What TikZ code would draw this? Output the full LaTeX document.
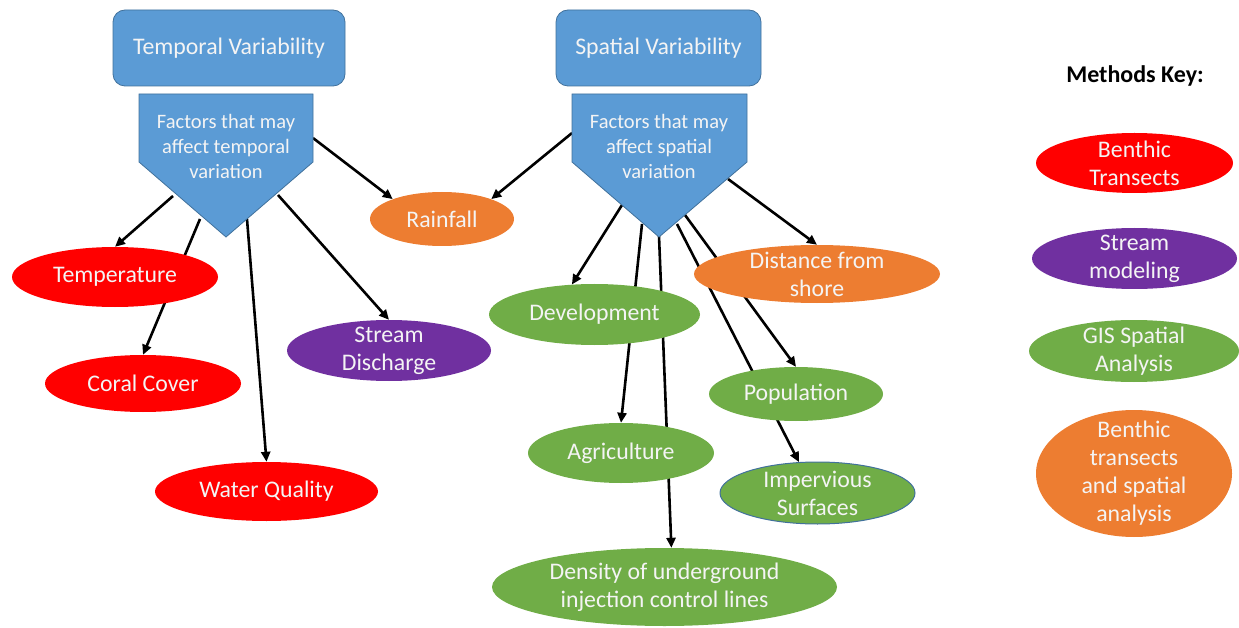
\documentclass[tikz,border=0pt]{standalone}
\usepackage{fontspec}
\setmainfont{Carlito}
\usetikzlibrary{shapes.geometric,arrows.meta,backgrounds}
\definecolor{oblue}{HTML}{5B9BD5}
\definecolor{obluedk}{HTML}{41719C}
\definecolor{ored}{HTML}{FF0000}
\definecolor{opurple}{HTML}{7030A0}
\definecolor{ogreen}{HTML}{70AD47}
\definecolor{oorange}{HTML}{ED7D31}
\definecolor{otext}{HTML}{F4F4F4}
\begin{document}
\begin{tikzpicture}[x=1pt,y=-1pt,
  lbl/.style={font=\fontsize{23.8}{28}\selectfont, text=otext, align=center, inner sep=0pt},
  oval/.style={ellipse, inner sep=0pt},
  rbox/.style={rectangle, rounded corners=12pt, fill=oblue, draw=obluedk, line width=0.8pt,
    font=\fontsize{23.8}{28}\selectfont, text=otext},
  penta/.style={fill=oblue, draw=obluedk, line width=0.8pt},
  ptext/.style={font=\fontsize{20.5}{25}\selectfont, text=otext, align=center, inner sep=0pt},
  conn/.style={line width=2.6pt, -{Triangle[length=10pt,width=9pt]}},
]
\useasboundingbox (0,0) rectangle (1239,628);

% header boxes
\node[rbox, minimum width=232pt, minimum height=76pt] (tv) at (229,48) {Temporal Variability};
\node[rbox, minimum width=205pt, minimum height=76pt] (sv) at (658.5,48) {Spatial Variability};

% pentagons
\path[penta] (139,94) -- (313,94) -- (313,162) -- (226,237) -- (139,162) -- cycle;
\node[ptext] (tf) at (226,146) {Factors that may\\affect temporal\\variation};
\path[penta] (572,94) -- (747,94) -- (747,162) -- (659,237) -- (572,162) -- cycle;
\node[ptext] (sf) at (659,146) {Factors that may\\affect spatial\\variation};

% connector start points on the pentagons
\coordinate (t1) at (173,196);
\coordinate (t2) at (200,219);
\coordinate (t3) at (247,219);
\coordinate (t4) at (278,195);
\coordinate (t5) at (313,138);
\coordinate (s1) at (572,133);
\coordinate (s2) at (622,205);
\coordinate (s3) at (642,224);
\coordinate (s4) at (659,236);
\coordinate (s5) at (677,224);
\coordinate (s6) at (685,215);
\coordinate (s7) at (728,179);

% factor ellipses
\node[oval, fill=ored, minimum width=206pt, minimum height=60pt, label={[lbl]center:Temperature}] (temp) at (115,277) {};
\node[oval, fill=ored, minimum width=196pt, minimum height=57pt, label={[lbl]center:Coral Cover}] (coral) at (143,383.5) {};
\node[oval, fill=ored, minimum width=223pt, minimum height=59pt, label={[lbl]center:Water Quality}] (water) at (266.5,491.5) {};
\node[oval, fill=opurple, minimum width=204pt, minimum height=61pt, label={[lbl]center:Stream\\Discharge}] (stream) at (389,350.5) {};
\node[oval, fill=oorange, minimum width=144pt, minimum height=54pt, label={[lbl]center:Rainfall}] (rain) at (442,219) {};
\node[oval, fill=ogreen, minimum width=211pt, minimum height=61pt, label={[lbl]center:Development}] (dev) at (594.5,314.5) {};
\node[oval, fill=oorange, minimum width=246pt, minimum height=58pt, label={[lbl]center:Distance from\\shore}] (dist) at (817,274) {};
\node[oval, fill=ogreen, minimum width=174pt, minimum height=54pt, label={[lbl]center:Population}] (pop) at (796,394) {};
\node[oval, fill=ogreen, minimum width=186pt, minimum height=60pt, label={[lbl]center:Agriculture}] (agri) at (621,453) {};
\node[oval, fill=ogreen, draw=obluedk, line width=1pt, minimum width=195pt, minimum height=62pt, label={[lbl]center:Impervious\\Surfaces}] (imp) at (817.5,493) {};
\node[oval, fill=ogreen, minimum width=345pt, minimum height=78pt, label={[lbl]center:Density of underground\\injection control lines}] (dens) at (664.5,587) {};

% key
\node[font=\bfseries\fontsize{24}{28}\selectfont, text=black] (keyt) at (1135,76) {Methods Key:};
\node[oval, fill=ored, minimum width=197pt, minimum height=60pt, label={[lbl]center:Benthic\\Transects}] (k1) at (1134.5,163) {};
\node[oval, fill=opurple, minimum width=205pt, minimum height=61pt, label={[lbl]center:Stream\\modeling}] (k2) at (1134.5,258.5) {};
\node[oval, fill=ogreen, minimum width=210pt, minimum height=62pt, label={[lbl]center:GIS Spatial\\Analysis}] (k3) at (1134,351) {};
\node[oval, fill=oorange, minimum width=196pt, minimum height=127pt, label={[lbl]center:Benthic\\transects\\and spatial\\analysis}] (k4) at (1134,473.5) {};

% connectors behind the shapes
\begin{pgfonlayer}{background}
\draw[conn] (t1) -- (temp.north);
\draw[conn] (t2) -- (coral.north);
\draw[conn] (t3) -- (water.north);
\draw[conn] (t4) -- (stream.north);
\draw[conn] (t5) -- (rain.158);
\draw[conn] (s1) -- (rain.22);
\draw[conn] (s2) -- (dev.127);
\draw[conn] (s3) -- (agri.north);
\draw[conn] (s4) -- (dens.80);
\draw[conn] (s5) -- (imp.121);
\draw[conn] (s6) -- (pop.north);
\draw[conn] (s7) -- (dist.north);
\end{pgfonlayer}
\end{tikzpicture}
\end{document}
